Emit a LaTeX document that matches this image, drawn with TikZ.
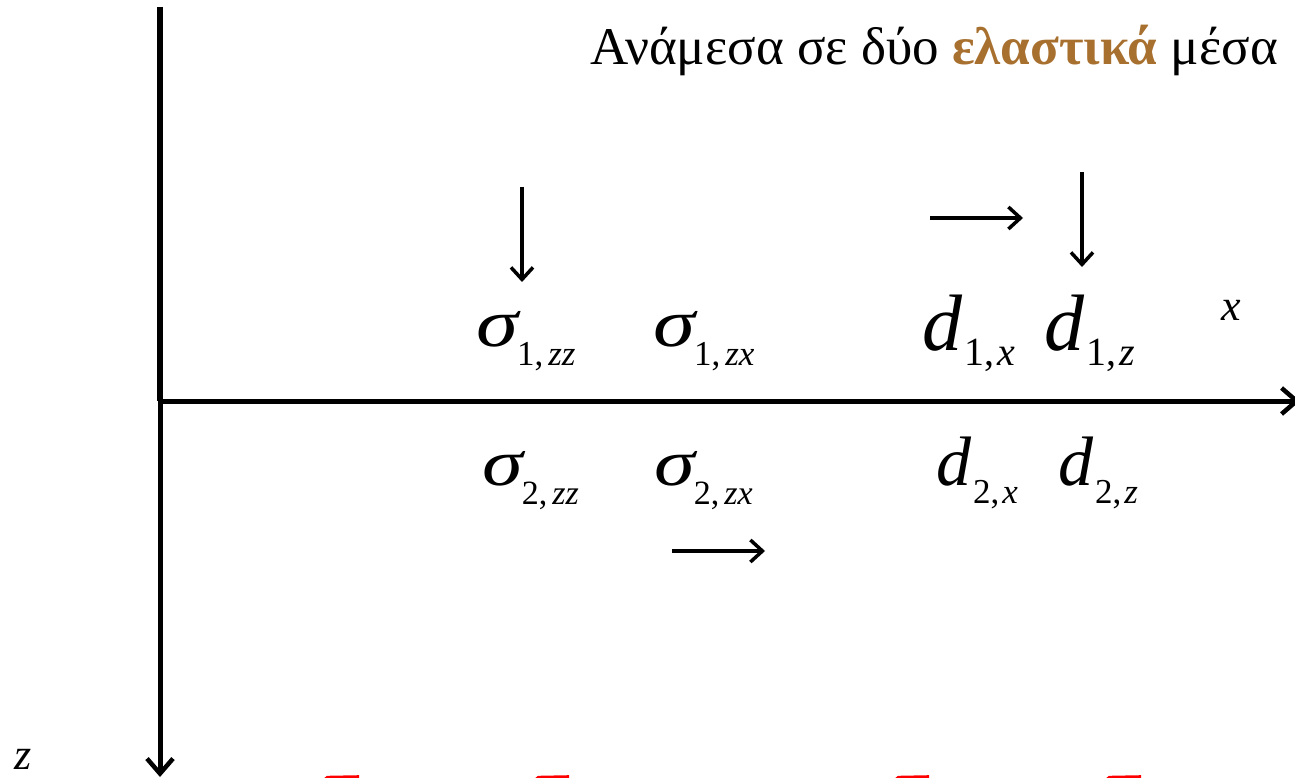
\documentclass[tikz,border=0pt]{standalone}
\usepackage{fontspec}
\setmainfont{Liberation Serif}
\usetikzlibrary{arrows.meta}
\definecolor{brownish}{HTML}{A8702F}
\definecolor{redbar}{HTML}{FF0000}
% #1 digit, #2 italic letters, #3 main size, #4 sub size, #5 drop
\newcommand\SigLab[5]{{\fontsize{#3}{#3}\selectfont\itshape\scalebox{1.25}[1]{σ}}\kern-1pt{\fontsize{#4}{#4}\selectfont\raisebox{-#5pt}{#1,\kern5pt\textit{#2}}}}
\newcommand\DLab[5]{{\fontsize{#3}{#3}\selectfont\itshape d}\kern2pt{\fontsize{#4}{#4}\selectfont\raisebox{-#5pt}{#1,\kern3pt\textit{#2}}}}
\tikzset{
  axisline/.style={line width=5pt, -{Straight Barb[length=15pt,width=26pt,line width=4.5pt]}},
  glypharrow/.style={line width=3.5pt, -{Straight Barb[length=12pt,width=22pt,line width=3.5pt]}},
  lab/.style={inner sep=0pt, anchor=base west},
}
\begin{document}
\begin{tikzpicture}[x=1pt,y=-1pt]
\useasboundingbox (0,0) rectangle (1295,778);
% axes
\coordinate (origin) at (160,401);
\coordinate (vtop) at (160,7);
\coordinate (vend) at (160,777);
\coordinate (hend) at (1300,401);
\draw[line width=5.5pt] (vtop) -- (origin);
\draw[axisline] (origin) -- (vend);
\draw[axisline] (origin) -- (hend);
% axis labels
\node[lab] (xl) at (1221,320) {\fontsize{44}{44}\selectfont\itshape x};
\node[lab] (zl) at (14,769) {\fontsize{44}{44}\selectfont\itshape z};
% title
\node[inner sep=0pt, anchor=base east] (title) at (1278,65) {\fontsize{53}{53}\selectfont Ανάμεσα σε δύο \textbf{\color{brownish}ελαστικά} μέσα};
% labels row 1
\node[lab] (s1zz) at (476,346) {\SigLab{1}{zz}{68}{35}{19}};
\node[lab] (s1zx) at (653,346) {\SigLab{1}{zx}{68}{35}{19}};
\node[lab] (d1x) at (922,350) {\DLab{1}{x}{80}{40}{15}};
\node[lab] (d1z) at (1044,350) {\DLab{1}{z}{80}{40}{15}};
% labels row 2
\node[lab] (s2zz) at (482,485) {\SigLab{2}{zz}{66}{34}{19}};
\node[lab] (s2zx) at (654,485) {\SigLab{2}{zx}{66}{34}{19}};
\node[lab] (d2x) at (936,485) {\DLab{2}{x}{70}{35}{18}};
\node[lab] (d2z) at (1058,485) {\DLab{2}{z}{70}{35}{18}};
% glyph arrows
\coordinate (a1s) at (522,187); \coordinate (a1e) at (522,282);
\coordinate (a2s) at (930,218); \coordinate (a2e) at (1023,218);
\coordinate (a3s) at (1082,172); \coordinate (a3e) at (1082,267);
\coordinate (a4s) at (672,551); \coordinate (a4e) at (765,551);
\draw[glypharrow] (a1s) -- (a1e);
\draw[glypharrow] (a2s) -- (a2e);
\draw[glypharrow] (a3s) -- (a3e);
\draw[glypharrow] (a4s) -- (a4e);
% red cut-off shapes at bottom
\foreach \xa/\xb in {323/359, 534/569, 894/929, 1105/1141}{
  \fill[redbar] (\xa,779) -- (\xa+4,775.8) -- (\xb,775.2) -- (\xb,779) -- cycle;
}
\end{tikzpicture}
\end{document}
